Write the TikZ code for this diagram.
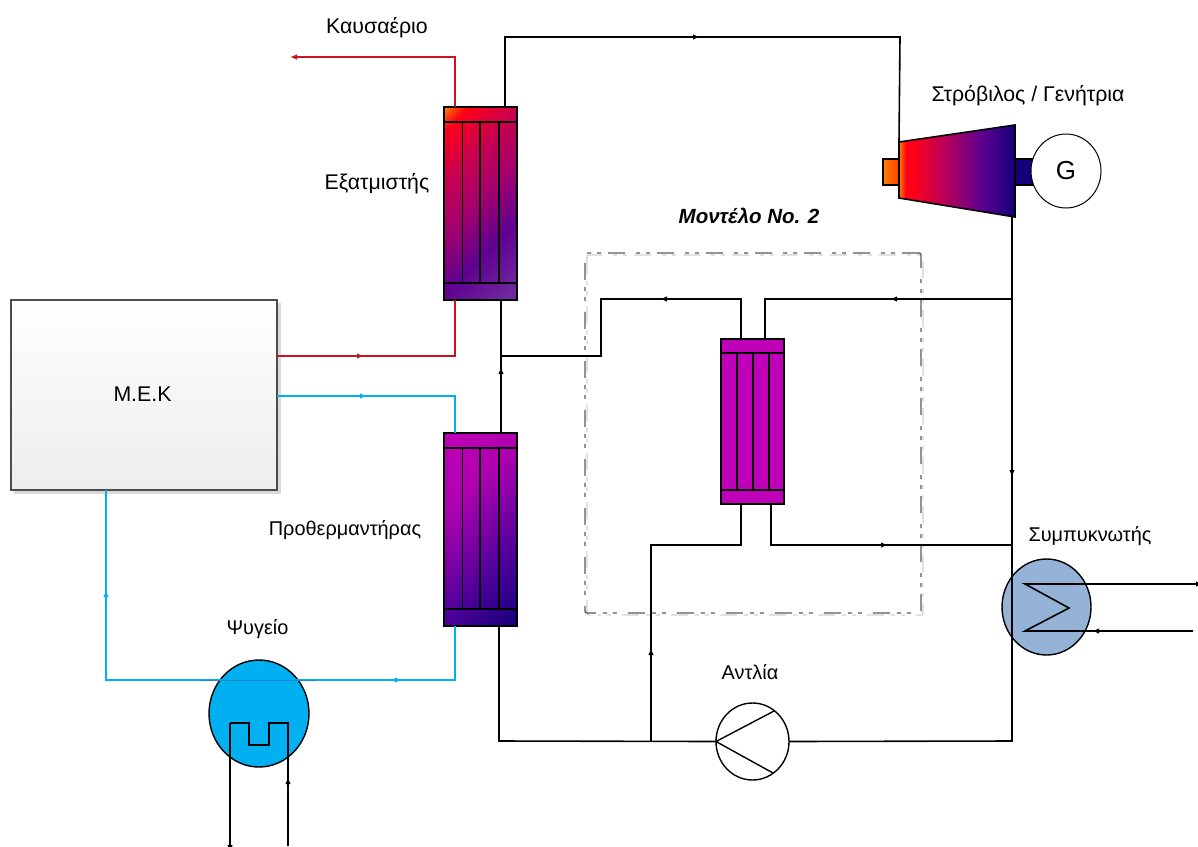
\documentclass[tikz,border=0pt]{standalone}
\usepackage{fontspec}
\setmainfont{Liberation Sans}
\usetikzlibrary{shapes.geometric,arrows.meta,decorations.markings}
\definecolor{cRed}{HTML}{C8141E}
\definecolor{cBlue}{HTML}{00B0F0}
\definecolor{cMag}{HTML}{C000B8}
\definecolor{cCond}{HTML}{95B3D7}
\definecolor{cSeam}{HTML}{1C8CC4}
\definecolor{HTMLa}{HTML}{7030A0}
\definecolor{HTMLb}{HTML}{600090}
\definecolor{HTMLm}{HTML}{A00070}
\definecolor{HTMLc}{HTML}{C80050}
\definecolor{HTMLd}{HTML}{FF0018}
\definecolor{HTMLe}{HTML}{FF8000}
\definecolor{HTMLf}{HTML}{FF4000}
\definecolor{preA}{HTML}{14007C}
\definecolor{preB}{HTML}{50009A}
\definecolor{preD}{HTML}{B000B0}
\definecolor{preC}{HTML}{C000B8}
\definecolor{mekB}{HTML}{EDEDED}
\pgfdeclareverticalshading{evapshade}{100bp}{
 color(0bp)=(HTMLa);
 color(14.6bp)=(HTMLa);
 color(36bp)=(HTMLb);
 color(50bp)=(HTMLm);
 color(65bp)=(HTMLc);
 color(79bp)=(HTMLd);
 color(85.4bp)=(HTMLe);
 color(100bp)=(HTMLe)}
\pgfdeclareverticalshading{preshade}{100bp}{
 color(0bp)=(preA);
 color(14.6bp)=(preA);
 color(36bp)=(preB);
 color(64bp)=(preD);
 color(85.4bp)=(preC);
 color(100bp)=(preC)}
\pgfdeclarehorizontalshading{turbshade}{100bp}{
 color(0bp)=(HTMLe);
 color(25bp)=(HTMLe);
 color(28bp)=(HTMLd);
 color(31bp)=(HTMLd);
 color(42bp)=(HTMLc);
 color(60bp)=(HTMLb);
 color(75bp)=(preA);
 color(100bp)=(preA)}
\pgfdeclarehorizontalshading{inshade}{100bp}{
 color(0bp)=(HTMLe);
 color(25bp)=(HTMLe);
 color(75bp)=(HTMLf);
 color(100bp)=(HTMLf)}
\pgfdeclareverticalshading{mekshade}{100bp}{
 color(0bp)=(mekB);
 color(25bp)=(mekB);
 color(75bp)=(white);
 color(100bp)=(white)}
\tikzset{
 x=1pt,y=-1pt,
 flow/.style={postaction={decorate,decoration={markings,
   mark=at position #1 with {\arrow{Latex[length=7pt,width=5.5pt]}}}}},
 pipe/.style={line width=1.6pt,black},
 hot/.style={line width=1.6pt,cRed},
 cold/.style={line width=1.6pt,cBlue},
 endtip/.style={-{Latex[length=7pt,width=5.5pt]}},
 lbl/.style={font=\fontsize{21.3}{25}\selectfont,inner sep=0pt},
 lbls/.style={font=\fontsize{19.9}{24}\selectfont,inner sep=0pt},
 hx/.style={draw=black,line width=1.4pt,rectangle,inner sep=0pt,outer sep=0pt},
 eqp/.style={draw=black,line width=1.4pt,ellipse,inner sep=0pt,outer sep=0pt},
}
\begin{document}
\begin{tikzpicture}
\useasboundingbox (0,0) rectangle (1198,846);
% M.E.K
\fill[black!15] (14,303) rectangle (281,494);
\node[draw=black!70,line width=1.5pt,rectangle,outer sep=0pt,inner sep=0pt,minimum width=266pt,minimum height=190pt,shading=mekshade] (mek) at (144,395) {};
\node[lbl] (mektext) at (142.5,394) {Μ.Ε.Κ};
% model boundary
\draw[black!18,line width=1.4pt,dash pattern=on 17pt off 7pt on 4pt off 6pt on 4pt off 11pt,rounded corners=2pt] (587,255) rectangle (923,615);
\node[draw=black!65,line width=1.4pt,dash pattern=on 17pt off 7pt on 4pt off 6pt on 4pt off 11pt,rounded corners=2pt,minimum width=336pt,minimum height=360pt,rectangle,outer sep=0pt,inner sep=0pt] (model) at (753,433) {};
% exchangers
\node[hx,minimum width=73pt,minimum height=193pt,shading=evapshade,shading angle=45] (evap) at (480.5,203.5) {};
\draw[line width=1.4pt] (444,122) -- (517,122) (444,283) -- (517,283)
  (462.5,122) -- (462.5,283) (480,122) -- (480,283) (499,122) -- (499,283);
\node[hx,minimum width=73pt,minimum height=193pt,shading=preshade,shading angle=45] (pre) at (480.5,529.5) {};
\draw[line width=1.4pt] (444,448) -- (517,448) (444,609) -- (517,609)
  (462.5,448) -- (462.5,609) (480,448) -- (480,609) (499,448) -- (499,609);
\node[hx,fill=cMag,minimum width=63pt,minimum height=165pt] (rec) at (752.5,421.5) {};
\draw[line width=1.4pt] (721,353) -- (784,353) (721,490) -- (784,490)
  (737,353) -- (737,490) (753,353) -- (753,490) (769,353) -- (769,490);
% turbine and generator
\node[hx,minimum width=16pt,minimum height=26pt,shading=inshade] (tin) at (891,172) {};
\node[hx,minimum width=18pt,minimum height=26pt,fill=preA] (tout) at (1024,172) {};
\draw[line width=1.6pt,shading=turbshade] (899,142) -- (1015,125) -- (1015,217) -- (899,198) -- cycle;
\coordinate (turbTop) at (899,142);
\coordinate (turbOut) at (1012,217);
\node[draw=black,line width=1pt,ellipse,inner sep=0pt,outer sep=0pt,fill=white,minimum width=70pt,minimum height=74pt] (gen) at (1066,171) {};
\node[lbl,font=\fontsize{26}{30}\selectfont] (gtext) at (1066,171) {G};
% cooler, condenser, pump
\node[eqp,fill=cBlue,minimum width=100pt,minimum height=107pt] (cool) at (259,713.5) {};
\node[eqp,fill=cCond,minimum width=89pt,minimum height=96pt] (cond) at (1046.5,607) {};
\node[eqp,fill=white,minimum width=73pt,minimum height=77pt] (pump) at (752.5,741.5) {};
\draw[line width=1.4pt] (pump.west) -- (774,711) (pump.west) -- (773,773);
% free ends and junctions
\coordinate (coolA) at (230,852);
\coordinate (coolB) at (288,846);
\coordinate (condA) at (1203,584);
\coordinate (condB) at (1193,631);
\coordinate (exh) at (290,57);
\coordinate (jFeed) at (501,356);
\coordinate (jSplit) at (1012,299);
\coordinate (jCond) at (1012,545);
\coordinate (jPump) at (651,741);
% red
\draw[hot,endtip,line width=1.2pt] (455,106.5) -- (455,57) -- (exh);
\draw[hot,flow=87pt] (mek.east |- 0,356) -- (455,356) -- (455,300);
% blue
\draw[cold,flow=90pt] (mek.east |- 0,396) -- (455,396) -- (455,433);
\draw[cold,flow=119pt,flow=493pt] (455,626) -- (455,680) -- (106,680) -- (106,490);
\draw[cSeam,line width=.8pt] (202,680) -- (316,680);
% black
\draw[pipe,flow=265pt] (505,107) -- (505,37) -- (900,37) -- (turbTop);
\draw[pipe,flow=260pt] (turbOut) -- (1012,741) -- (pump.east);
\draw[pipe,flow=122pt] (jSplit) -- (765,299) -- (765,339);
\draw[pipe,flow=121pt] (741,339) -- (741,299) -- (601,299) -- (601,356) -- (jFeed);
\draw[pipe,flow=66pt] (501,433) -- (501,300);
\draw[pipe,flow=158pt] (771,504) -- (771,545) -- (jCond);
\draw[pipe,flow=93pt] (jPump) -- (651,545) -- (741,545) -- (741,504);
\draw[pipe] (pump.west) -- (499,741) -- (499,626);
% cooler water
\draw[pipe,endtip] (230,723) -- (coolA);
\draw[pipe,flow=69pt] (coolB) -- (288,723) -- (269,723) -- (269,745) -- (249,745) -- (249,723) -- (230,723);
% condenser water
\draw[pipe,endtip,flow=101pt] (condB) -- (1025,631) -- (1069,608) -- (1025,584) -- (condA);
% labels
\node[lbl] (l1) at (377,28) {Καυσαέριο};
\node[lbl] (l2) at (377,184) {Εξατμιστής};
\node[lbls] (l3) at (345,530) {Προθερμαντήρας};
\node[lbls] (l4) at (257.5,629) {Ψυγείο};
\node[lbls] (l5) at (750,672) {Αντλία};
\node[lbl] (l6) at (1028,96) {Στρόβιλος / Γενήτρια};
\node[lbl,font=\fontsize{20.5}{24}\selectfont\bfseries\itshape] (l7) at (749,216) {Μοντέλο No. 2};
\node[lbls] (l8) at (1090,536) {Συμπυκνωτής};
\end{tikzpicture}
\end{document}
